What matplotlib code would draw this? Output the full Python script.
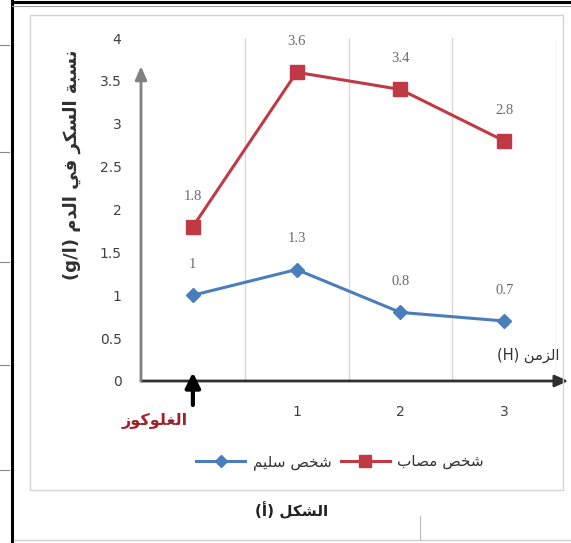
import matplotlib
matplotlib.use("Agg")
import matplotlib.pyplot as plt
from matplotlib.patches import Rectangle
from matplotlib.lines import Line2D

# ---- data ----
hours = [0, 1, 2, 3]
hour_labels = ["", "1", "2", "3"]
diabetic = [1.8, 3.6, 3.4, 2.8]
healthy = [1.0, 1.3, 0.8, 0.7]
y_ticks = [0, 0.5, 1, 1.5, 2, 2.5, 3, 3.5, 4]

# ---- minimal Arabic shaping (presentation forms B) ----
# char: (isolated, final, initial, medial); None where the letter does not join forward
FORMS = {
    "ا": (0xFE8D, 0xFE8E, None, None),
    "أ": (0xFE83, 0xFE84, None, None),
    "ب": (0xFE8F, 0xFE90, 0xFE91, 0xFE92),
    "ة": (0xFE93, 0xFE94, None, None),
    "خ": (0xFEA5, 0xFEA6, 0xFEA7, 0xFEA8),
    "د": (0xFEA9, 0xFEAA, None, None),
    "ر": (0xFEAD, 0xFEAE, None, None),
    "ز": (0xFEAF, 0xFEB0, None, None),
    "س": (0xFEB1, 0xFEB2, 0xFEB3, 0xFEB4),
    "ش": (0xFEB5, 0xFEB6, 0xFEB7, 0xFEB8),
    "ص": (0xFEB9, 0xFEBA, 0xFEBB, 0xFEBC),
    "غ": (0xFECD, 0xFECE, 0xFECF, 0xFED0),
    "ف": (0xFED1, 0xFED2, 0xFED3, 0xFED4),
    "ك": (0xFED9, 0xFEDA, 0xFEDB, 0xFEDC),
    "ل": (0xFEDD, 0xFEDE, 0xFEDF, 0xFEE0),
    "م": (0xFEE1, 0xFEE2, 0xFEE3, 0xFEE4),
    "ن": (0xFEE5, 0xFEE6, 0xFEE7, 0xFEE8),
    "و": (0xFEED, 0xFEEE, None, None),
    "ي": (0xFEF1, 0xFEF2, 0xFEF3, 0xFEF4),
}


def ar(text):
    """Shape an Arabic-only string and return it in visual (left-to-right) order."""
    out = []
    n = len(text)
    for i, ch in enumerate(text):
        if ch not in FORMS:
            out.append({"(": ")", ")": "("}.get(ch, ch))
            continue
        iso, fin, ini, med = FORMS[ch]
        prev = text[i - 1] if i > 0 else None
        nxt = text[i + 1] if i < n - 1 else None
        join_prev = prev in FORMS and FORMS[prev][2] is not None
        join_next = ini is not None and nxt in FORMS
        if join_prev and join_next:
            code = med
        elif join_prev:
            code = fin
        elif join_next:
            code = ini
        else:
            code = iso
        out.append(chr(code))
    return "".join(reversed(out))


W, H = 571, 543
fig = plt.figure(figsize=(W / 100, H / 100), dpi=100)
fig.patch.set_facecolor("white")


def fx(px):
    return px / W


def fy(py):
    return 1 - py / H


# page frame lines
fig.add_artist(Line2D([fx(12), fx(12)], [0, 1], color="black", lw=2.2))
fig.add_artist(Line2D([fx(12), 1], [fy(2), fy(2)], color="black", lw=2.2))
fig.add_artist(Line2D([fx(12), 1], [fy(6), fy(6)], color="#9a9a9a", lw=0.8))
for py in [45, 152, 262, 365, 470]:
    fig.add_artist(Line2D([0, fx(9)], [fy(py), fy(py)], color="#888888", lw=0.8))
fig.add_artist(Line2D([fx(14), 1], [fy(540), fy(540)], color="#cfcfcf", lw=1.0))
fig.add_artist(Line2D([fx(420), fx(420)], [fy(516), fy(540)], color="#bbbbbb", lw=0.8))

# chart area border
fig.add_artist(Rectangle((fx(30), fy(490)), fx(563) - fx(30), fy(15) - fy(490),
                         fill=False, edgecolor="#d4d4d4", lw=1.0))

ax = fig.add_axes([fx(141), fy(381), fx(556) - fx(141), fy(38) - fy(381)])
ax.set_xlim(-0.5, 3.5)
ax.set_ylim(0, 4)
for s in ax.spines.values():
    s.set_visible(False)

for gx in [0.5, 1.5, 2.5, 3.5]:
    ax.axvline(gx, color="#d9d9d9", lw=1.0, zorder=0)

red = "#BF3A45"
blue = "#4A7EBB"
l_red, = ax.plot(hours, diabetic, color=red, lw=2.2, marker="s", ms=10,
                 mfc=red, mec=red, label=ar("شخص مصاب"), zorder=3)
l_blue, = ax.plot(hours, healthy, color=blue, lw=2.2, marker="D", ms=7.5,
                  mfc=blue, mec=blue, label=ar("شخص سليم"), zorder=3)

for xv, yv in zip(hours, diabetic):
    ax.annotate(f"{yv:g}", (xv, yv), xytext=(0, 22), textcoords="offset points",
                ha="center", va="center", fontsize=10.5, color="#6b6b6b",
                family="Liberation Serif")
for xv, yv in zip(hours, healthy):
    ax.annotate(f"{yv:g}", (xv, yv), xytext=(0, 22), textcoords="offset points",
                ha="center", va="center", fontsize=10.5, color="#6b6b6b",
                family="Liberation Serif")

ax.set_xticks(hours)
ax.set_xticklabels(hour_labels)
ax.set_yticks(y_ticks)
ax.set_yticklabels([f"{v:g}" for v in y_ticks])
ax.tick_params(axis="both", length=0, labelsize=10, labelcolor="#404040")
ax.tick_params(axis="y", pad=14)
ax.tick_params(axis="x", pad=17)

# axes drawn as arrows
ax.annotate("", xy=(3.62, 0), xytext=(-0.5, 0), xycoords="data",
            arrowprops=dict(arrowstyle="-|>,head_length=0.8,head_width=0.35",
                            color="#303030", lw=2.0, shrinkA=0, shrinkB=0),
            annotation_clip=False)
ax.annotate("", xy=(-0.5, 3.67), xytext=(-0.5, 0), xycoords="data",
            arrowprops=dict(arrowstyle="-|>,head_length=0.8,head_width=0.35",
                            color="#808080", lw=2.0, shrinkA=0, shrinkB=0),
            annotation_clip=False)

# glucose intake marker
ax.annotate("", xy=(0, 0.1), xytext=(0, -0.28), xycoords="data",
            arrowprops=dict(arrowstyle="-|>,head_length=0.9,head_width=0.45",
                            color="black", lw=3.0, shrinkA=0, shrinkB=0),
            annotation_clip=False)
fig.text(fx(155), fy(421), ar("الغلوكوز"), ha="center", va="center",
         fontsize=11.5, fontweight="bold", color="#A0202A")

fig.text(fx(528), fy(355), "(H) " + ar("الزمن"), ha="center", va="center",
         fontsize=10.5, color="#303030")

fig.text(fx(72), fy(165), "(g/l) " + ar("نسبة السكر في الدم"), ha="center",
         va="center", rotation=90, fontsize=13, fontweight="bold", color="#303030")

ax.legend(handles=[l_blue, l_red], loc="center", bbox_to_anchor=(fx(340), fy(462)),
          bbox_transform=fig.transFigure, ncol=2, frameon=False, fontsize=11,
          handlelength=3.2, markerscale=0.8, columnspacing=0.6, handletextpad=0.5,
          labelcolor="#303030")

fig.text(fx(292), fy(510), "(" + ar("أ") + ") " + ar("الشكل"), ha="center",
         va="center", fontsize=11, fontweight="bold", color="#202020")

fig.savefig("out.png", dpi=100)
